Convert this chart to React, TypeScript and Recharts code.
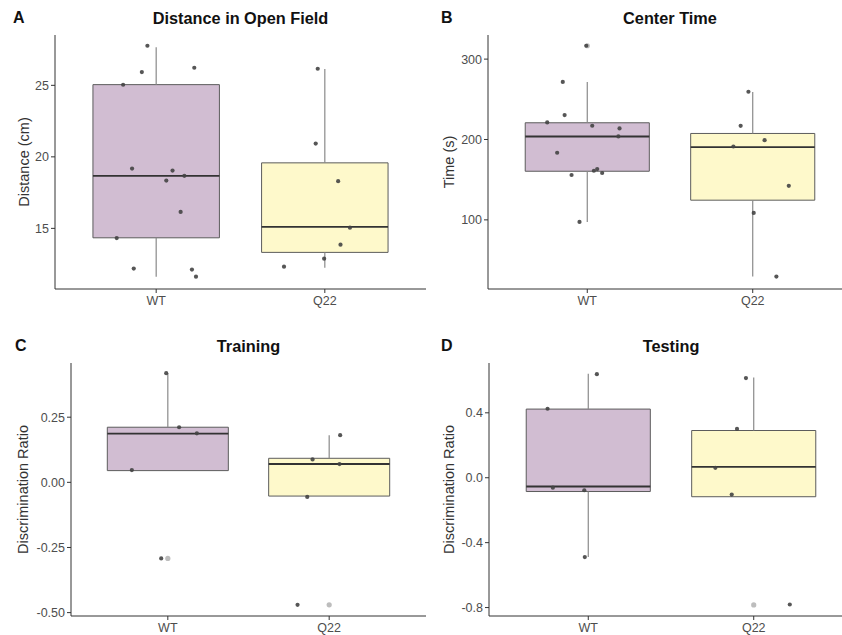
import { ComposedChart, XAxis, YAxis, Scatter, ReferenceArea, ReferenceLine } from 'recharts';

const categories = ['WT', 'Q22'];
const boxFills = ['#d1bdd2', '#fef9cb'];

// A: Distance in Open Field
const distanceBoxes = [
  { lo: 11.62, q1: 14.34, med: 18.67, q3: 25.05, hi: 27.66 },
  { lo: 12.24, q1: 13.32, med: 15.11, q3: 19.58, hi: 26.14 },
];
const distancePoints = [
  { x: 0.948, y: 27.77 }, { x: 0.915, y: 25.93 }, { x: 0.804, y: 25.04 }, { x: 1.226, y: 26.23 },
  { x: 0.857, y: 19.18 }, { x: 1.097, y: 19.04 }, { x: 1.06, y: 18.34 }, { x: 1.167, y: 18.67 },
  { x: 1.145, y: 16.15 }, { x: 0.766, y: 14.32 }, { x: 0.867, y: 12.19 }, { x: 1.212, y: 12.12 },
  { x: 1.236, y: 11.62 },
  { x: 1.958, y: 26.16 }, { x: 1.946, y: 20.93 }, { x: 2.079, y: 18.3 }, { x: 2.149, y: 15.05 },
  { x: 2.093, y: 13.86 }, { x: 1.996, y: 12.88 }, { x: 1.758, y: 12.32 },
];
const distanceOutliers: { x: number; y: number }[] = [];

// B: Center Time
const centerBoxes = [
  { lo: 97.5, q1: 160.5, med: 203.7, q3: 220.8, hi: 271.4 },
  { lo: 29.4, q1: 124.5, med: 190.5, q3: 207.5, hi: 259 },
];
const centerPoints = [
  { x: 0.994, y: 316.6 }, { x: 0.852, y: 271.6 }, { x: 0.863, y: 230.4 }, { x: 0.758, y: 221.2 },
  { x: 1.03, y: 217.1 }, { x: 1.195, y: 213.8 }, { x: 1.188, y: 203.8 }, { x: 0.818, y: 183.5 },
  { x: 1.06, y: 163.2 }, { x: 1.04, y: 161.1 }, { x: 1.09, y: 158.3 }, { x: 0.905, y: 155.8 },
  { x: 0.953, y: 97.5 },
  { x: 1.974, y: 259.4 }, { x: 1.927, y: 217 }, { x: 2.072, y: 199.2 }, { x: 1.883, y: 191.3 },
  { x: 2.218, y: 142.3 }, { x: 2.006, y: 108.7 }, { x: 2.143, y: 29.4 },
];
const centerOutliers = [{ x: 1, y: 316.6 }];

// C: Training
const trainingBoxes = [
  { lo: 0.045, q1: 0.045, med: 0.187, q3: 0.2115, hi: 0.419 },
  { lo: -0.0527, q1: -0.0527, med: 0.0704, q3: 0.0923, hi: 0.181 },
];
const trainingPoints = [
  { x: 0.99, y: 0.419 }, { x: 1.07, y: 0.2115 }, { x: 1.18, y: 0.188 }, { x: 0.777, y: 0.047 },
  { x: 0.959, y: -0.292 },
  { x: 2.068, y: 0.181 }, { x: 1.897, y: 0.088 }, { x: 2.064, y: 0.07 }, { x: 1.864, y: -0.056 },
  { x: 1.804, y: -0.47 },
];
const trainingOutliers = [{ x: 1, y: -0.292 }, { x: 2, y: -0.47 }];

// D: Testing
const testingBoxes = [
  { lo: -0.488, q1: -0.085, med: -0.054, q3: 0.423, hi: 0.64 },
  { lo: -0.117, q1: -0.117, med: 0.067, q3: 0.291, hi: 0.618 },
];
const testingPoints = [
  { x: 1.052, y: 0.638 }, { x: 0.754, y: 0.425 }, { x: 0.786, y: -0.061 }, { x: 0.976, y: -0.077 },
  { x: 0.979, y: -0.489 },
  { x: 1.953, y: 0.614 }, { x: 1.899, y: 0.301 }, { x: 1.768, y: 0.061 }, { x: 1.867, y: -0.104 },
  { x: 2.218, y: -0.781 },
];
const testingOutliers = [{ x: 2, y: -0.784 }];

const panels = [
  {
    letter: 'A', title: 'Distance in Open Field', yLabel: 'Distance (cm)',
    boxes: distanceBoxes, points: distancePoints, outliers: distanceOutliers,
    domain: [10.76, 28.52], ticks: [15, 20, 25], fmt: (v: number) => String(v),
    left: 0, top: 0, width: 426, height: 317, mt: 35, yw: 55, labelAt: 24, letterX: 13,
  },
  {
    letter: 'B', title: 'Center Time', yLabel: 'Time (s)',
    boxes: centerBoxes, points: centerPoints, outliers: centerOutliers,
    domain: [14, 330], ticks: [100, 200, 300], fmt: (v: number) => String(v),
    left: 421, top: 0, width: 431, height: 317, mt: 35, yw: 67, labelAt: 28, letterX: 20,
  },
  {
    letter: 'C', title: 'Training', yLabel: 'Discrimination Ratio',
    boxes: trainingBoxes, points: trainingPoints, outliers: trainingOutliers,
    domain: [-0.513, 0.458], ticks: [-0.5, -0.25, 0, 0.25], fmt: (v: number) => v.toFixed(2),
    left: 0, top: 318, width: 426, height: 326, mt: 45, yw: 71, labelAt: 23, letterX: 15,
  },
  {
    letter: 'D', title: 'Testing', yLabel: 'Discrimination Ratio',
    boxes: testingBoxes, points: testingPoints, outliers: testingOutliers,
    domain: [-0.852, 0.707], ticks: [-0.8, -0.4, 0, 0.4], fmt: (v: number) => v.toFixed(1),
    left: 421, top: 318, width: 432, height: 326, mt: 45, yw: 68, labelAt: 28, letterX: 20,
  },
];

const FONT = '"Liberation Sans", Arial, sans-serif';

function YTitle({ viewBox, value, at }: any) {
  const x = viewBox.x + at;
  const y = viewBox.y + viewBox.height / 2;
  return (
    <text x={x} y={y} transform={`rotate(-90 ${x} ${y})`} textAnchor="middle" dominantBaseline="central"
      fontSize={14.5} fill="#333" fontFamily={FONT}>
      {value}
    </text>
  );
}

const Dot = (p: any) => <circle cx={p.cx} cy={p.cy} r={2.1} fill="#444" fillOpacity={0.9} />;
const OutDot = (p: any) => <circle cx={p.cx} cy={p.cy} r={2.6} fill="#bdbdbd" />;

function Panel({ cfg }: { cfg: any }) {
  return (
    <div style={{ position: 'absolute', left: cfg.left, top: cfg.top, width: cfg.width, height: cfg.height }}>
      <ComposedChart width={cfg.width} height={cfg.height} margin={{ top: cfg.mt, right: 0, bottom: 0, left: 0 }}
        style={{ fontFamily: FONT }}>
        <XAxis type="number" dataKey="x" domain={[0.4, 2.6]} ticks={[1, 2]} allowDataOverflow
          tickFormatter={(v: number) => categories[Math.round(v) - 1]} height={28} tickSize={4} tickMargin={3}
          stroke="#333" tick={{ fill: '#4d4d4d', fontSize: 12.5 }} />
        <YAxis type="number" dataKey="y" domain={cfg.domain} ticks={cfg.ticks} allowDataOverflow
          tickFormatter={cfg.fmt} width={cfg.yw} tickSize={4} tickMargin={2} stroke="#333"
          tick={{ fill: '#4d4d4d', fontSize: 12.5 }}
          label={<YTitle value={cfg.yLabel} at={cfg.labelAt} />} />
        {cfg.boxes.map((b: any, i: number) => (
          <ReferenceLine key={`wl${i}`} segment={[{ x: i + 1, y: b.lo }, { x: i + 1, y: b.q1 }]}
            stroke="#8a8a8a" strokeWidth={1.2} />
        ))}
        {cfg.boxes.map((b: any, i: number) => (
          <ReferenceLine key={`wh${i}`} segment={[{ x: i + 1, y: b.q3 }, { x: i + 1, y: b.hi }]}
            stroke="#8a8a8a" strokeWidth={1.2} />
        ))}
        {cfg.boxes.map((b: any, i: number) => (
          <ReferenceArea key={`bx${i}`} x1={i + 1 - 0.375} x2={i + 1 + 0.375} y1={b.q1} y2={b.q3}
            fill={boxFills[i]} fillOpacity={1} stroke="#5c5c5c" strokeWidth={1} />
        ))}
        {cfg.boxes.map((b: any, i: number) => (
          <ReferenceLine key={`md${i}`} segment={[{ x: i + 1 - 0.375, y: b.med }, { x: i + 1 + 0.375, y: b.med }]}
            stroke="#333" strokeWidth={1.8} />
        ))}
        <Scatter data={cfg.outliers} shape={OutDot} isAnimationActive={false} />
        <Scatter data={cfg.points} shape={Dot} isAnimationActive={false} />
      </ComposedChart>
      <div style={{ position: 'absolute', left: cfg.letterX, top: cfg.mt - 26, lineHeight: '18px',
        fontFamily: FONT, fontWeight: 'bold', fontSize: 16, color: '#111' }}>{cfg.letter}</div>
      <div style={{ position: 'absolute', left: cfg.yw, width: cfg.width - cfg.yw, top: cfg.mt - 26, lineHeight: '18px',
        textAlign: 'center', fontFamily: FONT, fontWeight: 'bold', fontSize: 16.3, color: '#111' }}>{cfg.title}</div>
    </div>
  );
}

export default function App() {
  return (
    <div style={{ position: 'absolute', left: 0, top: 0, width: 842, height: 635, overflow: 'hidden', background: '#fff' }}>
      {panels.map((p) => <Panel key={p.letter} cfg={p} />)}
    </div>
  );
}
